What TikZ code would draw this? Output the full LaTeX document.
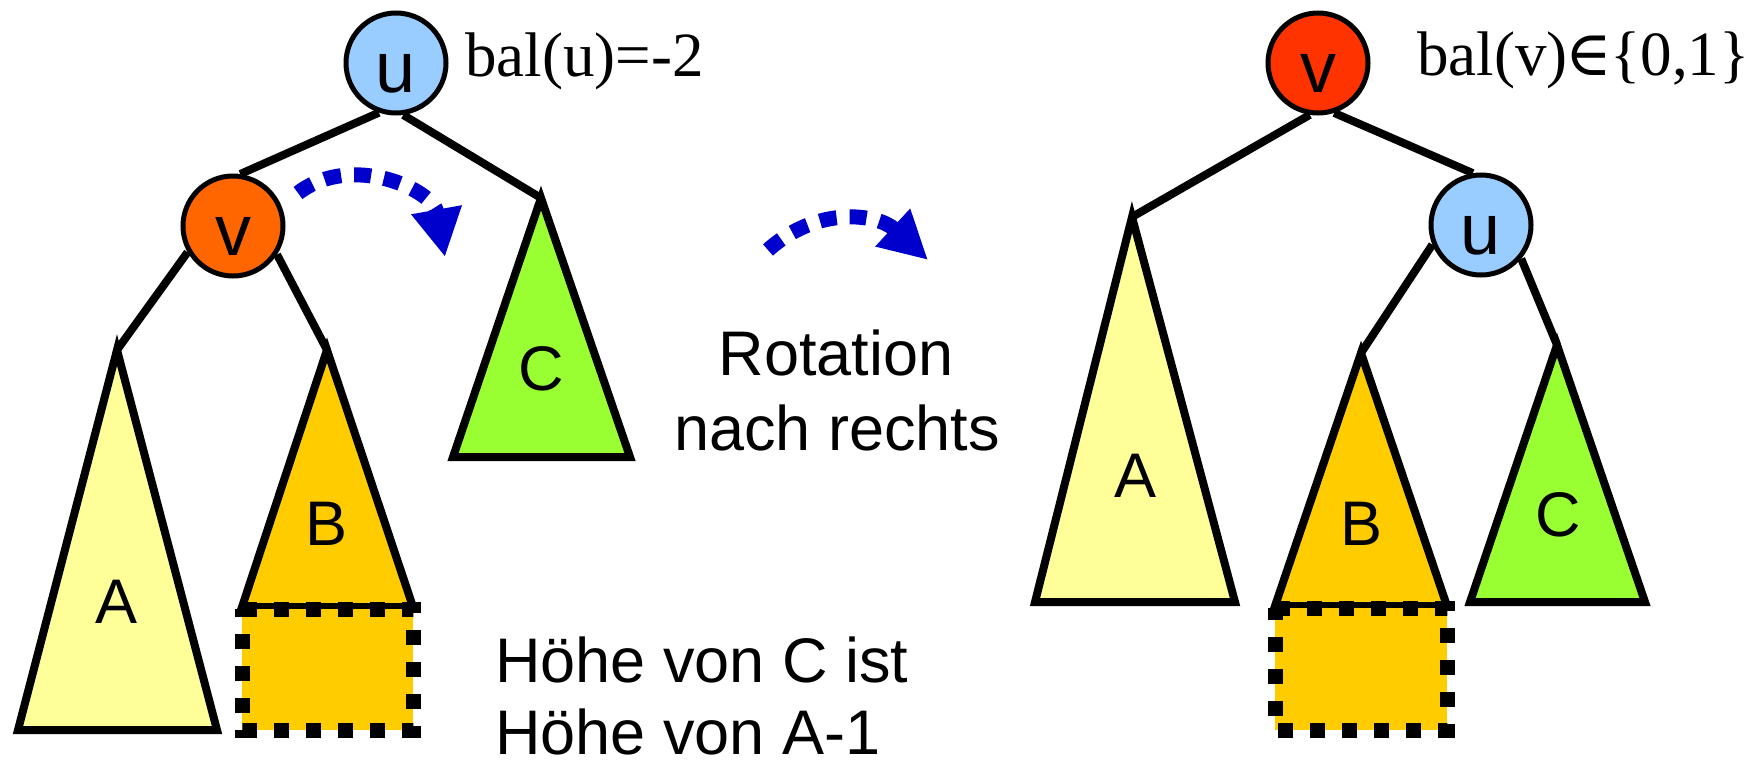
\documentclass[tikz,border=0pt]{standalone}
\usepackage{fontspec}
\setmainfont{Liberation Serif}
\newfontfamily\arialf{Liberation Sans}
\newfontfamily\dvserif{DejaVu Serif}
\usetikzlibrary{arrows.meta}
\definecolor{ublue}{HTML}{99CCFF}
\definecolor{vorangeL}{HTML}{FF6600}
\definecolor{vredR}{HTML}{FF3300}
\definecolor{afill}{HTML}{FFFF99}
\definecolor{bfill}{HTML}{FFCC00}
\definecolor{cfill}{HTML}{99FF33}
\definecolor{rotblue}{HTML}{0000CC}
\begin{document}
\begin{tikzpicture}[x=0.5pt,y=-0.5pt,
  edge/.style={line width=4pt},
  tri/.style={line width=4pt, draw=black, miter limit=12},
  knot/.style={circle, draw=black, line width=2.5pt, minimum size=50pt, inner sep=0pt,
    font=\arialf\fontsize{36}{36}\selectfont, text height=29pt, text depth=0pt},
  tlabel/.style={anchor=base, inner sep=0pt, font=\arialf\fontsize{31.5}{37.5}\selectfont},
  sanstext/.style={inner sep=0pt, font=\arialf\fontsize{31.5}{37.5}\selectfont},
  baltext/.style={anchor=base west, inner sep=0pt, font=\fontsize{31.5}{37.5}\selectfont},
  dotbox/.style={line width=7.5pt, dash pattern=on 7.5pt off 8.5pt, fill=bfill},
  rot/.style={rotblue, line width=7.5pt, dash pattern=on 8.5pt off 6.5pt,
    -{Triangle[length=24pt,width=24pt]}}
]
\useasboundingbox (0,0) rectangle (1751,760);

% ---------------- left tree ----------------
\coordinate (AL) at (117,350);
\coordinate (BL) at (327,350);
\coordinate (CL) at (541,198);
\filldraw[tri, fill=afill] (AL) -- (18,730) -- (217,730) -- cycle;
\filldraw[tri, fill=bfill] (BL) -- (242,607) -- (413,607) -- cycle;
\filldraw[tri, fill=cfill] (CL) -- (453,457) -- (630,457) -- cycle;
\draw[dotbox] (242,609) -- (413,609) -- (413,730) -- (242,730) -- cycle;
\node[tlabel] (labAL) at (117,623) {A};
\node[tlabel] (labBL) at (327,545) {B};
\node[tlabel] (labCL) at (541,390) {C};

\node[knot, fill=ublue] (uL) at (396,63) {u};
\node[knot, fill=vorangeL] (vL) at (233,226) {v};
\draw[edge] (uL.251) -- (vL.82);
\draw[edge] (uL.278) -- (CL);
\draw[edge] (vL.210) -- (AL);
\draw[edge] (vL.327) -- (BL);
\node[baltext] (balu) at (465,76) {bal(u)=-2};

\coordinate (aLs) at (298,193);
\coordinate (aLe) at (445,257);
\draw[rot] (aLs) .. controls (352,152) and (433,190) .. (aLe);

% ---------------- middle ----------------
\coordinate (aMs) at (768,250);
\coordinate (aMe) at (928,260);
\draw[rot] (aMs) .. controls (818,205) and (878,214) .. (aMe);
\node[sanstext, anchor=base] (rot1) at (836,375) {Rotation};
\node[sanstext, anchor=base] (rot2) at (837,450) {nach rechts};
\node[sanstext, anchor=base west] (h1) at (495,682) {Höhe von C ist};
\node[sanstext, anchor=base west] (h2) at (495,754) {Höhe von A-1};

% ---------------- right tree ----------------
\coordinate (AR) at (1132,217);
\coordinate (BR) at (1361,353);
\coordinate (CR) at (1557,345);
\filldraw[tri, fill=afill] (AR) -- (1035,602) -- (1235,602) -- cycle;
\filldraw[tri, fill=bfill] (BR) -- (1275,606) -- (1447,606) -- cycle;
\filldraw[tri, fill=cfill] (CR) -- (1470,602) -- (1645,602) -- cycle;
\draw[dotbox] (1275,608) -- (1447,608) -- (1447,730) -- (1275,730) -- cycle;
\node[tlabel] (labAR) at (1135,497) {A};
\node[tlabel] (labBR) at (1361,545) {B};
\node[tlabel] (labCR) at (1558,536) {C};

\node[knot, fill=vredR] (vR) at (1318,63) {v};
\node[knot, fill=ublue] (uR) at (1481,225) {u};
\draw[edge] (vR.261) -- (AR);
\draw[edge] (vR.288) -- (uR.99);
\draw[edge] (uR.202) -- (BR);
\draw[edge] (uR.320) -- (CR);
\node[baltext] (balv) at (1417,75) {bal(v)\kern-1pt{\dvserif ∈}\kern-1pt\{0,1\}};
\end{tikzpicture}
\end{document}
